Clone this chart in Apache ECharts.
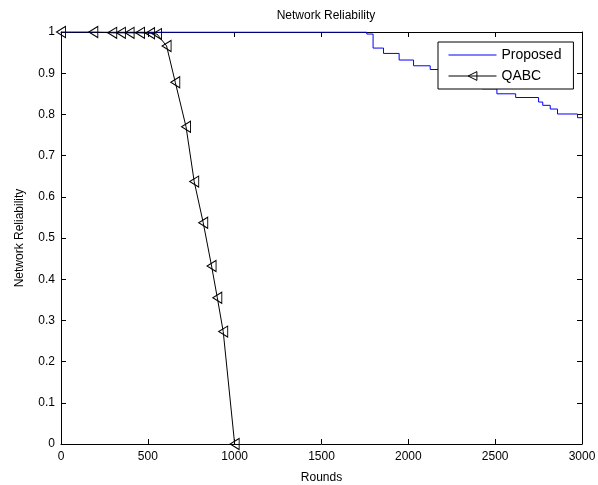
<!DOCTYPE html>
<html>
<head>
<meta charset="utf-8">
<script src="https://cdn.jsdelivr.net/npm/echarts@6/dist/echarts.min.js"></script>
<style>
  html, body { margin: 0; padding: 0; background: #fff; }
  #main { width: 598px; height: 485px; }
</style>
</head>
<body>
<div id="main"></div>
<script>
// Proposed: step curve (level holds from each round until the next one)
var proposedRounds = [0, 1761, 1797, 1857, 1947, 2030, 2126, 2241, 2327, 2425, 2510, 2618, 2750, 2774, 2817, 2859, 2974, 3000];
var proposedReliability = [1, 0.995, 0.961, 0.948, 0.932, 0.918, 0.909, 0.893, 0.877, 0.862, 0.850, 0.841, 0.830, 0.822, 0.813, 0.801, 0.792, 0.792];

// QABC: marked points
var qabcRounds = [0, 186, 295, 345, 395, 455, 513, 553, 608, 658, 720, 767, 819, 867, 900, 934, 1000];
var qabcReliability = [1, 1, 0.998, 0.998, 0.998, 0.998, 0.997, 0.995, 0.966, 0.878, 0.770, 0.637, 0.537, 0.432, 0.355, 0.273, 0];

var xTicks = [0, 500, 1000, 1500, 2000, 2500, 3000];

var font = 'Liberation Sans, Arial, sans-serif';
var leftTri = 'path://M0,5 L9,0 L9,10 Z';

function pairs(xs, ys) {
    var out = [];
    for (var i = 0; i < xs.length; i++) out.push([xs[i], ys[i]]);
    return out;
}

// box axes (top / right) carry only inward ticks, like matlab
function mirrorX() {
    return {
        type: 'value', position: 'top',
        min: 0, max: 3000, interval: 500,
        axisLine: { onZero: false, lineStyle: { color: '#000', width: 1 } },
        axisTick: { inside: true, length: 5, lineStyle: { color: '#000' } },
        axisLabel: { show: false },
        splitLine: { show: false }
    };
}
function mirrorY() {
    return {
        type: 'value', position: 'right',
        min: 0, max: 1, interval: 0.1,
        axisLine: { show: true, onZero: false, lineStyle: { color: '#000', width: 1 } },
        axisTick: { show: true, inside: true, length: 5, lineStyle: { color: '#000' } },
        axisLabel: { show: false },
        splitLine: { show: false }
    };
}

var chart = echarts.init(document.getElementById('main'));

var option = {
    backgroundColor: '#fff',
    animation: false,
    textStyle: { fontFamily: font, color: '#000' },
    title: {
        text: 'Network Reliability',
        left: 321,
        textAlign: 'center',
        top: 5,
        textStyle: { fontFamily: font, fontSize: 12, fontWeight: 'normal', color: '#000' }
    },
    legend: {
        orient: 'vertical',
        left: 438,
        top: 42,
        padding: [6, 12, 6, 10],
        itemGap: 7,
        itemWidth: 48,
        itemHeight: 11,
        backgroundColor: '#fff',
        borderColor: '#000',
        borderWidth: 1,
        borderRadius: 0,
        textStyle: { fontFamily: font, fontSize: 14, color: '#000' },
        data: [{
            name: 'Proposed',
            itemStyle: { opacity: 0 },
            lineStyle: { color: '#0000ff', width: 1 }
        }, {
            name: 'QABC',
            itemStyle: { color: 'rgba(255,255,255,0)', borderColor: '#000', borderWidth: 1 },
            lineStyle: { color: '#000', width: 1 }
        }]
    },
    grid: { left: 61, right: 16, top: 32, bottom: 41, containLabel: false, outerBoundsMode: 'none' },
    xAxis: [{
        type: 'value',
        min: 0, max: 3000, interval: 500,
        name: 'Rounds',
        nameLocation: 'middle',
        nameGap: 28,
        nameTextStyle: { fontFamily: font, fontSize: 12, color: '#000' },
        axisLine: { onZero: false, lineStyle: { color: '#000', width: 1 } },
        axisTick: { inside: true, length: 5, lineStyle: { color: '#000' } },
        axisLabel: { fontFamily: font, fontSize: 12, color: '#000', margin: 7,
            formatter: function (v) { return xTicks.indexOf(v) >= 0 ? String(v) : ''; } },
        splitLine: { show: false }
    }, mirrorX()],
    yAxis: [{
        type: 'value',
        min: 0, max: 1, interval: 0.1,
        name: 'Network Reliability',
        nameLocation: 'middle',
        nameRotate: 90,
        nameGap: 35,
        nameTextStyle: { fontFamily: font, fontSize: 12, color: '#000' },
        axisLine: { show: true, onZero: false, lineStyle: { color: '#000', width: 1 } },
        axisTick: { show: true, inside: true, length: 5, lineStyle: { color: '#000' } },
        axisLabel: { fontFamily: font, fontSize: 12, color: '#000', margin: 6,
            formatter: function (v) { return String(+v.toFixed(1)); } },
        splitLine: { show: false }
    }, mirrorY()],
    series: [{
        name: 'Proposed',
        type: 'line',
        step: 'end',
        xAxisIndex: 0, yAxisIndex: 0,
        data: pairs(proposedRounds, proposedReliability),
        showSymbol: false,
        symbol: 'none',
        itemStyle: { color: '#0000ff' },
        lineStyle: { color: '#0000ff', width: 1 },
        z: 3
    }, {
        name: 'QABC',
        type: 'line',
        xAxisIndex: 0, yAxisIndex: 0,
        data: pairs(qabcRounds, qabcReliability),
        symbol: leftTri,
        symbolSize: [9, 11],
        showAllSymbol: true,
        itemStyle: { color: 'rgba(255,255,255,0)', borderColor: '#000', borderWidth: 1 },
        lineStyle: { color: '#000', width: 1 },
        z: 4
    }]
};
chart.setOption(option);
</script>
</body>
</html>
